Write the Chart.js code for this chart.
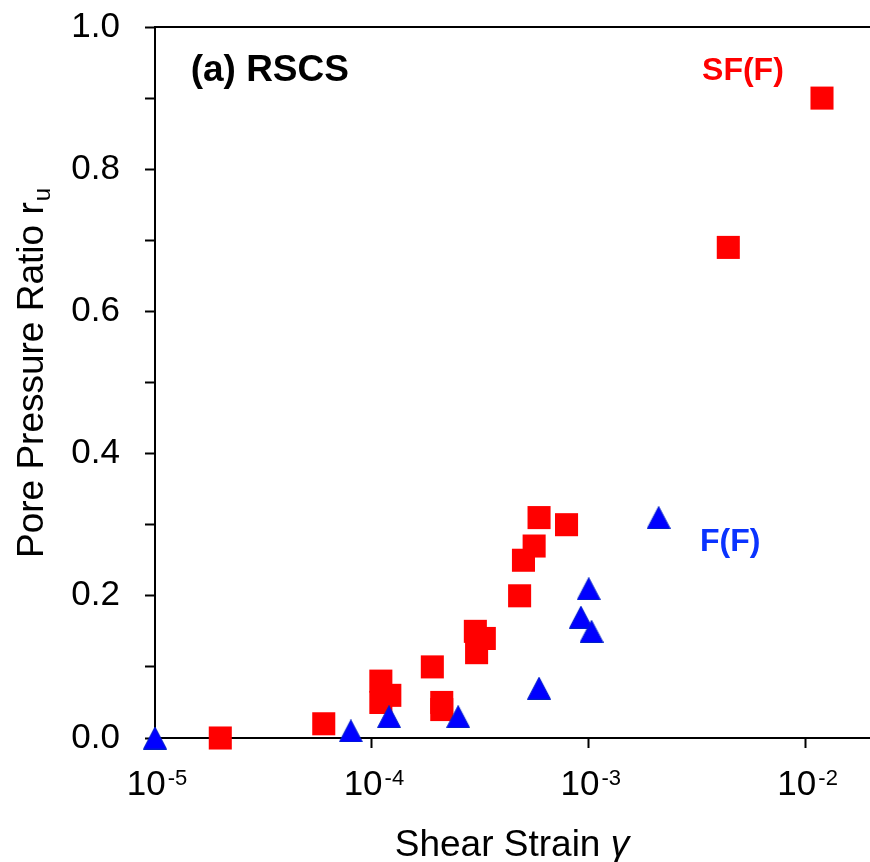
<!DOCTYPE html>
<html>
<head>
<meta charset="utf-8">
<script src="https://cdn.jsdelivr.net/npm/chart.js@4.4.0/dist/chart.umd.min.js"></script>
<style>
  html, body { margin: 0; padding: 0; background: #fff; }
  #chart { display: block; }
</style>
</head>
<body>
<canvas id="chart" width="870" height="862"></canvas>
<script>
// SF(F) specimens - red squares
const sfStrain = [2.0e-5, 6.0e-5, 1.10e-4, 1.21e-4, 1.10e-4, 1.90e-4, 2.10e-4, 2.10e-4, 3.0e-4, 3.3e-4, 3.04e-4, 4.8e-4, 5.0e-4, 5.6e-4, 5.9e-4, 7.9e-4, 4.4e-3, 1.19e-2];
const sfRu     = [0.00, 0.02, 0.08, 0.06, 0.05, 0.10, 0.05, 0.04, 0.15, 0.14, 0.12, 0.20, 0.25, 0.27, 0.31, 0.30, 0.69, 0.90];

// F(F) specimens - blue triangles
const fStrain = [1.0e-5, 8.0e-5, 1.2e-4, 2.5e-4, 5.9e-4, 9.2e-4, 1.03e-3, 1.0e-3, 2.1e-3];
const fRu     = [0.00, 0.01, 0.03, 0.03, 0.07, 0.17, 0.15, 0.21, 0.31];

// axis ticks
const xTickValues = [1e-5, 1e-4, 1e-3, 1e-2];
const xTickBase = '10';
const xTickExp = ['-5', '-4', '-3', '-2'];
const yTickValues = [0, 0.1, 0.2, 0.3, 0.4, 0.5, 0.6, 0.7, 0.8, 0.9, 1.0];

const xTitle = 'Shear Strain ';
const xTitleSymbol = 'γ';
const yTitle = 'Pore Pressure Ratio r';
const yTitleSub = 'u';

const notes = [
  {text: '(a) RSCS', x: 1.46e-5, y: 0.924, color: '#000000', size: 37},
  {text: 'SF(F)', x: 3.33e-3, y: 0.925, color: '#ff0000', size: 32},
  {text: 'F(F)', x: 3.26e-3, y: 0.263, color: '#0a33ff', size: 32}
];

const FONT = "'Liberation Sans', Arial, sans-serif";

function toPoints(xs, ys) {
  return xs.map((v, i) => ({x: v, y: ys[i]}));
}

// triangle marker, centred on its bounding box like the original
function makeTriangle(w, h, fill, edge) {
  const c = document.createElement('canvas');
  c.width = w;
  c.height = h;
  const g = c.getContext('2d');
  g.fillStyle = fill;
  g.strokeStyle = edge;
  g.lineWidth = 1;
  g.beginPath();
  g.moveTo(w / 2, 0.5);
  g.lineTo(w - 0.5, h - 0.5);
  g.lineTo(0.5, h - 0.5);
  g.closePath();
  g.fill();
  g.stroke();
  return c;
}

function noPadding(scale) {
  scale.paddingTop = 0;
  scale.paddingBottom = 0;
  scale.paddingLeft = 0;
  scale.paddingRight = 0;
}

const textPlugin = {
  id: 'textPlugin',
  afterDraw(chart) {
    const ctx = chart.ctx;
    const xs = chart.scales.x;
    const ys = chart.scales.y;
    const area = chart.chartArea;
    ctx.save();

    // top frame line
    ctx.strokeStyle = '#000';
    ctx.lineWidth = 2;
    ctx.beginPath();
    ctx.moveTo(area.left - 1, area.top);
    ctx.lineTo(area.right + 1, area.top);
    ctx.stroke();

    // x tick labels 10^n
    ctx.fillStyle = '#000';
    ctx.textAlign = 'left';
    ctx.textBaseline = 'alphabetic';
    xTickValues.forEach((v, i) => {
      const px = xs.getPixelForValue(v);
      ctx.font = '35px ' + FONT;
      const wb = ctx.measureText(xTickBase).width;
      ctx.font = '22px ' + FONT;
      const we = ctx.measureText(xTickExp[i]).width;
      const left = px - (wb + we + 2) / 2 + 2;
      ctx.font = '35px ' + FONT;
      ctx.fillText(xTickBase, left, area.bottom + 57);
      ctx.font = '22px ' + FONT;
      ctx.fillText(xTickExp[i], left + wb + 2, area.bottom + 47);
    });

    // x axis title
    ctx.font = '37px ' + FONT;
    const w1 = ctx.measureText(xTitle).width;
    ctx.font = 'italic 37px ' + FONT;
    const w2 = ctx.measureText(xTitleSymbol).width;
    let tx = (area.left + area.right) / 2 - (w1 + w2) / 2;
    ctx.font = '37px ' + FONT;
    ctx.fillText(xTitle, tx, area.bottom + 118);
    ctx.font = 'italic 37px ' + FONT;
    ctx.fillText(xTitleSymbol, tx + w1, area.bottom + 118);

    // y axis title with subscript
    ctx.save();
    ctx.translate(43, (area.top + area.bottom) / 2 - 9);
    ctx.rotate(-Math.PI / 2);
    ctx.font = '37px ' + FONT;
    const m1 = ctx.measureText(yTitle).width;
    ctx.font = '24px ' + FONT;
    const m2 = ctx.measureText(yTitleSub).width;
    const start = -(m1 + m2) / 2;
    ctx.font = '37px ' + FONT;
    ctx.fillText(yTitle, start, 0);
    ctx.font = '24px ' + FONT;
    ctx.fillText(yTitleSub, start + m1 + 1, 7);
    ctx.restore();

    // labels inside the plot
    notes.forEach(n => {
      ctx.font = 'bold ' + n.size + 'px ' + FONT;
      ctx.fillStyle = n.color;
      ctx.fillText(n.text, xs.getPixelForValue(n.x), ys.getPixelForValue(n.y));
    });

    ctx.restore();
  }
};

const chart = new Chart(document.getElementById('chart'), {
  type: 'scatter',
  data: {
    datasets: [
      {
        label: 'F(F)',
        data: toPoints(fStrain, fRu),
        pointStyle: makeTriangle(24, 23, '#0000ff', '#0020c8'),
        order: 0,
        clip: false
      },
      {
        label: 'SF(F)',
        data: toPoints(sfStrain, sfRu),
        pointStyle: 'rect',
        pointRadius: 16.3,
        backgroundColor: '#ff0000',
        borderWidth: 0,
        order: 1,
        clip: false
      }
    ]
  },
  options: {
    responsive: false,
    animation: false,
    devicePixelRatio: 1,
    layout: {
      autoPadding: false,
      padding: {top: 27, right: 1, left: 0, bottom: 0}
    },
    plugins: {
      legend: {display: false},
      tooltip: {enabled: false}
    },
    scales: {
      x: {
        type: 'logarithmic',
        min: 1e-5,
        max: 0.0196,
        afterFit: function (scale) { scale.height = 124; noPadding(scale); },
        afterBuildTicks: function (scale) {
          scale.ticks = xTickValues.map(v => ({value: v, major: true}));
        },
        ticks: {
          autoSkip: false,
          maxRotation: 0,
          callback: function () { return ''; }
        },
        grid: {
          drawOnChartArea: false,
          drawTicks: true,
          tickLength: 10,
          tickWidth: 2,
          tickColor: '#000'
        },
        border: {display: true, color: '#000', width: 2}
      },
      y: {
        type: 'linear',
        min: 0,
        max: 1,
        afterFit: function (scale) { scale.width = 155; noPadding(scale); },
        afterBuildTicks: function (scale) {
          scale.ticks = yTickValues.map(v => ({value: v}));
        },
        ticks: {
          padding: 25,
          color: '#000',
          font: {family: FONT, size: 35},
          callback: function (value) {
            return Math.round(value * 10) % 2 === 0 ? value.toFixed(1) : '';
          }
        },
        grid: {
          drawOnChartArea: false,
          drawTicks: true,
          tickLength: 10,
          tickWidth: 2,
          tickColor: '#000'
        },
        border: {display: true, color: '#000', width: 2}
      }
    }
  },
  plugins: [textPlugin]
});
</script>
</body>
</html>
